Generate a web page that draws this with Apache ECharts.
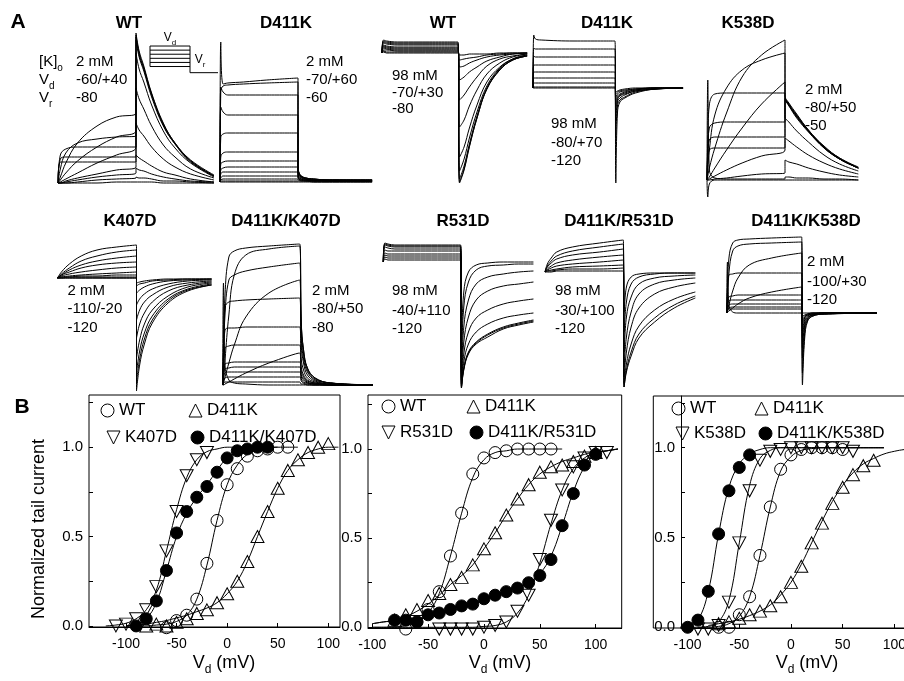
<!DOCTYPE html>
<html><head><meta charset="utf-8">
<script src="https://cdn.jsdelivr.net/npm/echarts@6.0.0/dist/echarts.min.js"></script>
<style>html,body{margin:0;padding:0;background:#fff}#c{width:904px;height:681px}</style>
</head><body><div id="c"></div><script>
const FONT = '"Liberation Sans", Arial, Helvetica, sans-serif';

// ================= Panel A: current traces (values in a.u., baseline = 0) =================
const wt2Time = [0,3,10,25,50,75,100,100,104,110,120,135,150,170,200];
const wt2Traces = [
 [0,21,21,21,21,21,21,150,132,117,90,60,40,23,8],
 [0,24,26,26,26,26,26,148,130,115,89,59,40,22,7],
 [0,28,34,36,36,36,36,146,128,114,88,58,39,22,7],
 [0,14,30,40,44,46,47,143,126,112,86,57,39,21,7],
 [0,6,20,40,57,66,70,130,114,101,78,52,35,20,6],
 [0,3,10,22,36,46,53,95,84,74,57,38,26,14,5],
 [0,1,4,10,20,28,36,60,53,47,36,24,16,9,3],
 [0,0,2,5,9,13,16,28,25,22,17,11,8,4,1],
 [0,0,1,3,6,8,10,15,13,12,9,6,4,2,1],
 [0,0,0,1,3,4,5,6,5,5,4,2,2,1,0],
 [0,0,0,0,0,1,1,1,1,1,1,0,0,0,0]
];
const d4k2Time = [0,1,4,10,30,60,100,100,101,104,110,120,140,195];
const d4k2Traces = [
 [0,140,98,99,100,102,104,14,10,6,4,3,2,2],
 [0,90,96,97,98,99,100,14,10,6,4,3,2,2],
 [0,95,90,87,87,87,87,13,9,6,4,3,2,2],
 [0,75,70,67,67,67,67,12,8,5,3,2,2,2],
 [0,45,48,49,49,49,49,11,7,5,3,2,2,1],
 [0,25,29,30,30,30,30,9,6,4,3,2,1,1],
 [0,18,20,21,21,21,21,8,5,3,2,2,1,1],
 [0,12,14,15,15,15,15,6,4,3,2,1,1,1],
 [0,8,10,10,10,10,10,5,3,2,2,1,1,1],
 [0,4,6,6,6,6,6,4,3,2,1,1,1,1],
 [0,2,3,3,3,3,3,2,2,1,1,1,1,1],
 [0,1,1,1,1,1,1,1,1,1,1,0,0,0],
 [0,0,0,0,0,0,0,0,0,0,0,0,0,0]
];
const wt98Time = [0,2,6,20,50,100,102,108,115,125,138,155,172,191];
const wt98Traces = [
 [0,13,12,11,11,11,-130,-117,-94,-65,-36,-17,-7,-3],
 [0,12,11,10,10,10,-129,-116,-93,-65,-36,-17,-7,-3],
 [0,11,10,9,9,9,-126,-113,-91,-63,-35,-16,-7,-3],
 [0,10,9,8,8,8,-118,-106,-85,-59,-33,-15,-6,-2],
 [0,8,7,6,6,6,-104,-94,-75,-52,-29,-14,-6,-2],
 [0,7,6,5,5,5,-74,-67,-53,-37,-21,-10,-4,-1],
 [0,6,5,4,4,4,-47,-42,-34,-24,-13,-6,-3,-1],
 [0,5,4,3,3,3,-27,-24,-19,-14,-8,-4,-1,0],
 [0,3,3,2,2,2,-14,-13,-10,-7,-4,-2,-1,0],
 [0,2,1,1,1,1,-7,-6,-5,-4,-2,-1,0,0],
 [0,1,0,0,0,0,-2,-2,-1,-1,-1,0,0,0]
];
const d4k98Time = [0,1,3,10,50,100,101,103,106,112,125,150,183];
const d4k98Traces = [
 [0,53,49,48,47,47,-95,-25,-14,-10,-5,-1,0],
 [0,40,39,39,39,39,-50,-18,-12,-9,-4,-1,0],
 [0,32,31,31,31,31,-32,-14,-10,-7,-3,-1,0],
 [0,23,23,23,23,23,-22,-12,-8,-6,-3,-1,0],
 [0,16,16,16,16,16,-16,-10,-7,-5,-2,0,0],
 [0,10,10,10,10,10,-12,-8,-6,-4,-2,0,0],
 [0,5,5,5,5,5,-9,-6,-4,-3,-1,0,0],
 [0,1,1,1,1,1,-6,-4,-3,-2,-1,0,0],
 [0,0,0,0,0,0,-4,-3,-2,-1,0,0,0]
];
const k538Time = [0,1,3,10,25,45,70,100,100,105,115,130,150,170,194];
const k538Traces = [
 [0,4,12,32,67,103,125,140,83,76,65,50,33,22,12],
 [0,10,30,65,92,110,120,127,82,75,64,49,33,21,12],
 [0,1,3,12,30,52,76,98,63,58,49,38,25,16,9],
 [0,40,75,86,87,87,87,87,84,77,66,50,34,22,13],
 [0,30,52,57,58,58,58,58,82,75,64,49,33,21,12],
 [0,25,40,43,43,43,43,43,81,75,63,49,32,21,12],
 [0,20,30,32,32,32,32,32,80,74,62,48,32,21,12],
 [0,0,1,4,10,17,24,30,42,39,33,25,17,11,6],
 [0,0,0,1,2,4,6,7,20,18,16,12,8,5,3],
 [0,100,10,2,1,1,1,1,3,3,2,2,1,1,0],
 [0,-17,-4,0,0,0,0,0,0,0,0,0,0,0,0]
];
const k407Time = [0,5,15,30,50,75,100,100,104,110,120,140,165,195];
const k407Traces = [
 [0,6,14,22,28,31,33,-113,-87,-66,-45,-25,-13,-7],
 [0,4,10,17,22,26,28,-105,-81,-61,-42,-23,-12,-7],
 [0,3,8,13,17,20,22,-95,-73,-55,-38,-21,-11,-6],
 [0,3,6,10,13,15,16,-80,-62,-46,-32,-18,-9,-5],
 [0,2,4,6,8,10,11,-60,-46,-35,-24,-13,-7,-4],
 [0,1,2,3,4,5,6,-42,-32,-24,-17,-9,-5,-3],
 [0,1,1,2,2,3,3,-27,-21,-16,-11,-6,-3,-2],
 [0,0,1,1,1,1,1,-15,-12,-9,-6,-3,-2,-1],
 [0,0,0,0,0,0,0,-8,-6,-5,-3,-2,-1,-1],
 [0,0,0,0,0,0,0,-5,-4,-3,-2,-1,-1,-1]
];
const dk407Time = [0,1,3,8,15,30,60,100,102,105,110,120,140,195];
const dk407Traces = [
 [0,30,90,128,134,137,139,141,63,35,17,7,2,0],
 [0,5,25,70,110,130,136,139,63,35,17,7,2,0],
 [0,20,70,105,110,114,118,122,55,31,15,6,2,0],
 [0,2,8,22,40,68,92,105,47,26,13,5,2,0],
 [0,40,78,83,84,85,86,87,39,22,10,4,1,0],
 [0,30,55,57,57,58,58,58,26,15,7,3,1,0],
 [0,20,37,39,40,40,40,40,18,10,5,2,1,0],
 [0,0,1,3,6,12,22,32,14,8,4,2,0,0],
 [0,12,21,22,23,23,23,23,10,6,3,1,0,0],
 [0,9,16,17,18,18,18,18,8,5,2,1,0,0],
 [0,7,12,13,13,13,13,13,6,3,2,1,0,0],
 [0,4,7,8,8,8,8,8,4,2,1,0,0,0],
 [0,2,3,3,3,3,3,3,1,1,0,0,0,0],
 [0,102,20,5,2,1,0,0,0,0,0,0,0,0]
];
const r531Time = [0,2,6,15,40,70,100,101,104,110,120,135,155,175,194];
const r531Traces = [
 [0,19,18,17,17,17,17,-126,-108,-92,-82,-75,-67,-63,-60],
 [0,18,17,16,16,16,16,-126,-107,-91,-81,-73,-66,-62,-59],
 [0,17,16,15,15,15,15,-125,-106,-90,-80,-72,-65,-61,-58],
 [0,15,14,13,13,13,13,-124,-100,-82,-70,-62,-56,-53,-51],
 [0,12,11,11,11,11,11,-122,-92,-70,-56,-48,-42,-39,-37],
 [0,9,8,8,8,8,8,-118,-80,-55,-38,-29,-24,-22,-20],
 [0,7,6,6,6,6,6,-110,-65,-38,-22,-15,-12,-10,-9],
 [0,5,4,4,4,4,4,-95,-45,-20,-8,-4,-3,-2,-2],
 [0,3,2,2,2,2,2,-80,-30,-10,-3,-1,0,0,0]
];
const dr531Time = [0,3,8,15,35,70,100,101,104,110,120,140,165,192];
const dr531Traces = [
 [0,8,14,20,25,29,32,-115,-100,-84,-66,-50,-36,-26],
 [0,6,11,16,21,25,28,-115,-98,-80,-62,-46,-33,-24],
 [0,5,9,13,17,20,23,-112,-92,-72,-54,-38,-27,-20],
 [0,3,6,9,12,15,17,-105,-80,-55,-36,-22,-15,-11],
 [0,2,4,6,8,10,12,-95,-65,-40,-22,-12,-8,-6],
 [0,1,2,3,5,6,7,-80,-45,-25,-12,-6,-4,-3],
 [0,1,1,2,3,3,4,-60,-30,-12,-5,-2,-1,-1],
 [0,0,0,1,1,1,1,-40,-15,-5,-2,-1,-1,-1]
];
const dk538Time = [0,1,3,8,15,30,60,100,101,104,108,115,130,200];
const dk538Traces = [
 [0,20,55,70,73,74,75,76,-72,-25,-8,-3,-1,0],
 [0,10,40,62,67,69,70,71,-60,-20,-7,-3,-1,0],
 [0,2,8,22,35,48,55,60,-45,-15,-6,-2,-1,0],
 [0,25,38,39,40,40,40,40,-35,-12,-5,-2,-1,0],
 [0,1,2,5,9,15,21,26,-25,-9,-4,-2,0,0],
 [0,10,16,17,18,18,18,18,-18,-7,-3,-1,0,0],
 [0,7,12,13,13,13,13,13,-12,-5,-2,-1,0,0],
 [0,5,8,9,9,9,9,9,-8,-4,-2,-1,0,0],
 [0,3,5,6,6,6,6,6,-5,-3,-1,0,0,0],
 [0,2,4,4,4,4,4,4,-3,-2,-1,0,0,0],
 [0,51,8,1,0,0,0,0,0,0,0,0,0,0]
];
// voltage protocol inset (schematic, mV)
const protoTime = [0, 100, 170];
const protoLevels = [40, 20, 0, -20, -40, -60];
const protoVr = -90;

// panel titles and recording conditions
const panelTitles = ['WT','D411K','WT','D411K','K538D','K407D','D411K/K407D','R531D','D411K/R531D','D411K/K538D'];
const panelConds = [
 ['2 mM','-60/+40','-80'], ['2 mM','-70/+60','-60'], ['98 mM','-70/+30','-80'],
 ['98 mM','-80/+70','-120'], ['2 mM','-80/+50','-50'], ['2 mM','-110/-20','-120'],
 ['2 mM','-80/+50','-80'], ['98 mM','-40/+110','-120'], ['98 mM','-30/+100','-120'],
 ['2 mM','-100/+30','-120']
];

// ================= Panel B: normalized tail current vs Vd =================
const b1wtX = [-60,-50,-40,-30,-20,-10,0,10,20,30,40,50,60];
const b1wtY = [-0.01,0.03,0.06,0.15,0.35,0.59,0.79,0.88,0.95,0.98,0.99,1.0,1.0];
const b1dkX = [-80,-70,-60,-50,-40,-30,-20,-10,0,10,20,30,40,50,60,70,80,90,100];
const b1dkY = [0,0.01,0,0.02,0.04,0.07,0.09,0.13,0.18,0.25,0.36,0.5,0.64,0.77,0.87,0.93,0.97,1.0,1.02];
const b1mX = [-110,-100,-90,-80,-70,-60,-50,-40,-30,-20];
const b1mY = [0,0.01,0.04,0.09,0.22,0.42,0.64,0.84,0.93,0.97];
const b1ddX = [-90,-80,-70,-60,-50,-40,-30,-20,-10,0,10,20,30,40];
const b1ddY = [0,0.04,0.14,0.31,0.52,0.64,0.72,0.78,0.86,0.94,0.98,0.99,1.0,1.0];
const f1wtX = [-100,-90,-80,-70,-60,-50,-40,-30,-20,-10,0,10,20,30,40,50,60,70];
const f1wtY = [0,0,0,0.005,0.01,0.025,0.06,0.15,0.34,0.59,0.79,0.9,0.96,0.985,0.995,1,1,1];
const f1dkX = [-100,-90,-80,-70,-60,-50,-40,-30,-20,-10,0,10,20,30,40,50,60,70,80,90,100,110];
const f1dkY = [0,0.005,0.01,0.02,0.03,0.045,0.06,0.08,0.1,0.13,0.18,0.25,0.36,0.5,0.64,0.77,0.87,0.93,0.97,0.99,1,1];
const f1mX = [-120,-110,-100,-90,-80,-70,-60,-50,-40,-30,-20,-10,0,10,20,30,40,50];
const f1mY = [0,0.005,0.015,0.04,0.09,0.2,0.42,0.65,0.83,0.93,0.975,0.99,1,1,1,1,1,1];
const f1ddX = [-100,-90,-80,-70,-60,-50,-40,-30,-20,-10,0,10,20,30,40];
const f1ddY = [0,0.01,0.04,0.13,0.31,0.5,0.63,0.72,0.79,0.87,0.94,0.97,0.99,1,1];
const b2wtX = [-70,-60,-50,-40,-30,-20,-10,0,10,20,30,40,50,60];
const b2wtY = [-0.01,0.03,0.1,0.2,0.4,0.64,0.86,0.95,0.98,0.99,1.0,1.0,1.0,1.0];
const b2dkX = [-80,-70,-60,-50,-40,-30,-20,-10,0,10,20,30,40,50,60,70,80,90,100];
const b2dkY = [0.04,0.07,0.1,0.15,0.19,0.24,0.28,0.35,0.44,0.53,0.63,0.72,0.8,0.87,0.9,0.91,0.93,0.96,0.98];
const b2mX = [-40,-30,-20,-10,0,10,20,30,40,50,60,70,80,90,100,110];
const b2mY = [-0.01,-0.01,-0.01,-0.01,0,0.01,0.03,0.09,0.18,0.38,0.6,0.77,0.9,0.95,0.98,0.98];
const b2ddX = [-80,-70,-60,-50,-40,-30,-20,-10,0,10,20,30,40,50,60,70,80,90,100];
const b2ddY = [0.04,0.04,0.03,0.07,0.08,0.1,0.12,0.13,0.16,0.18,0.2,0.22,0.25,0.29,0.38,0.57,0.75,0.91,0.97];
const f2wtX = [-100,-90,-80,-70,-60,-50,-40,-30,-20,-10,0,10,20,30,40,50,60,70];
const f2wtY = [0,0,0,0.01,0.03,0.08,0.19,0.4,0.64,0.84,0.94,0.98,0.99,1,1,1,1,1];
const f2X = [-100,-90,-80,-70,-60,-50,-40,-30,-20,-10,0,10,20,30,40,50,60,70,80,90,100,110,120];
const f2dkY = [0.02,0.03,0.04,0.06,0.09,0.13,0.18,0.24,0.29,0.35,0.44,0.53,0.63,0.72,0.8,0.86,0.9,0.93,0.95,0.97,0.985,0.99,1];
const f2mY = [0,0,0,0,0,0,0,0,0,0,0.005,0.01,0.03,0.08,0.18,0.36,0.58,0.77,0.89,0.95,0.98,0.99,1];
const f2ddY = [0.02,0.03,0.035,0.04,0.05,0.06,0.075,0.09,0.11,0.13,0.155,0.175,0.2,0.225,0.25,0.3,0.4,0.57,0.76,0.9,0.97,0.99,1];
const b3wtX = [-70,-60,-50,-40,-30,-20,-10,0,10,20,30,40,50];
const b3wtY = [0,0,0.07,0.17,0.4,0.67,0.88,0.96,0.99,1.0,1.0,1.0,0.99];
const b3dkX = [-70,-60,-50,-40,-30,-20,-10,0,10,20,30,40,50,60,70,80];
const b3dkY = [0.02,0.03,0.05,0.07,0.09,0.12,0.17,0.25,0.34,0.47,0.58,0.69,0.78,0.85,0.9,0.93];
const b3mX = [-90,-80,-70,-60,-50,-40,-30,-20,-10,0,10,20,30,40,50,60];
const b3mY = [-0.01,-0.01,0.01,0.14,0.47,0.76,0.93,0.98,0.99,1,1,1,1,1,1,0.98];
const b3ddX = [-100,-90,-80,-70,-60,-50,-40];
const b3ddY = [0,0.04,0.2,0.52,0.76,0.89,0.96];
const f3wtX = [-90,-80,-70,-60,-50,-40,-30,-20,-10,0,10,20,30,40,50,60,70,80,90];
const f3wtY = [0,0,0.005,0.02,0.06,0.17,0.4,0.67,0.87,0.95,0.985,0.995,1,1,1,1,1,1,1];
const f3dkX = [-80,-70,-60,-50,-40,-30,-20,-10,0,10,20,30,40,50,60,70,80,90,100,110,120];
const f3dkY = [0.01,0.02,0.03,0.045,0.065,0.09,0.125,0.18,0.25,0.35,0.47,0.59,0.7,0.79,0.86,0.91,0.94,0.965,0.98,0.99,0.995];
const f3mX = [-100,-90,-80,-70,-60,-50,-40,-30,-20,-10,0,10,20,30,40,50,60,70,80,90];
const f3mY = [0,0,0.005,0.03,0.15,0.47,0.79,0.94,0.985,1,1,1,1,1,1,1,1,1,1,1];
const f3ddX = [-110,-100,-90,-80,-70,-60,-50,-40,-30,-20,-10,0,10,20,30,40,50,60,70,80,90];
const f3ddY = [0,0.005,0.04,0.2,0.52,0.78,0.91,0.965,0.99,1,1,1,1,1,1,1,1,1,1,1,1];

const xLabelVals = [-100,-50,0,50,100];
const yTickVals = [0,0.25,0.5,0.75,1,1.25];
const yLabelVals = [0,0.5,1];

// ================= layout (positions only) =================
const traceLayout = [
 {time: wt2Time, traces: wt2Traces, left: 58, px: 0.78, base: 183, ymax: 155, ymin: -8},
 {time: d4k2Time, traces: d4k2Traces, left: 220, px: 0.78, base: 182, ymax: 145, ymin: -5},
 {time: wt98Time, traces: wt98Traces, left: 382, px: 0.76, base: 53, ymax: 20, ymin: -135},
 {time: d4k98Time, traces: d4k98Traces, left: 533, px: 0.82, base: 88, ymax: 60, ymin: -100},
 {time: k538Time, traces: k538Traces, left: 707, px: 0.78, base: 180, ymax: 150, ymin: -25},
 {time: k407Time, traces: k407Traces, left: 57.5, px: 0.79, base: 278, ymax: 40, ymin: -120},
 {time: dk407Time, traces: dk407Traces, left: 222.7, px: 0.77, base: 385, ymax: 150, ymin: -12},
 {time: r531Time, traces: r531Traces, left: 383.3, px: 0.774, base: 262, ymax: 25, ymin: -135},
 {time: dr531Time, traces: dr531Traces, left: 545, px: 0.783, base: 272, ymax: 40, ymin: -125},
 {time: dk538Time, traces: dk538Traces, left: 726.7, px: 0.75, base: 313, ymax: 85, ymin: -80}
];
const titlePos = [[129,23],[286,23],[443,23],[607,23],[748,23],[130,221],[286,221],[463,221],[619,221],[806,221]];
const condPos = [[76,62,80,98],[306,62,80,98],[392,76,92.5,109],[551,124,142.5,161],[805,90,108,126],
 [67.5,290.5,309,327.5],[312,290.5,309,327.5],[392,291,310.5,329],[555,291,310.5,329],[807,262,282,300]];
const plotLayout = [
 {left: 89, top: 395, width: 251, height: 232, xmin: -136.6, xmax: 111.6, ymin: -0.006, ymax: 1.292, yLine: false},
 {left: 368, top: 395, width: 253.7, height: 233, xmin: -103.8, xmax: 123.3, ymin: -0.004, ymax: 1.303, yLine: false},
 {left: 681, top: 396, width: 228.6, height: 232, xmin: -106.4, xmax: 114.8, ymin: -0.004, ymax: 1.288, yLine: true}
];
const frameLayout = [
 {left: 89, top: 395, width: 251, height: 232},
 {left: 368, top: 395, width: 253.7, height: 233},
 {left: 653.3, top: 396, width: 256.3, height: 232}
];
const legendPos = [
 [[107,411],[195,411],[113,438],[197,438]],
 [[388,407],[473,407],[388,433],[476,433]],
 [[678,409],[761,409],[682,434],[765,434]]
];
const xNamePos = [[224,663],[500,663],[807,663]];
const yLabelGap = 6;

// ================= build option =================
const grids = [], xAxes = [], yAxes = [], series = [], graphics = [], legends = [], plotGrid = [];
function addGrid(g, xa, ya) {
  grids.push(Object.assign({outerBoundsMode: 'none'}, g));
  const i = grids.length - 1;
  xAxes.push(Object.assign({gridIndex: i}, xa));
  yAxes.push(Object.assign({gridIndex: i}, ya));
  return i;
}
const hidden = (min, max) => ({type: 'value', min, max, show: false, splitLine: {show: false}});
function lineSeries(gi, data, smooth) {
  return {type: 'line', xAxisIndex: gi, yAxisIndex: gi, data, symbol: 'none', showSymbol: false,
    smooth: smooth, lineStyle: {color: '#000', width: 1}, silent: true, animation: false, z: 2};
}

traceLayout.forEach(p => {
  const tmax = p.time[p.time.length - 1];
  const gi = addGrid({left: p.left, top: p.base - p.ymax, width: tmax * p.px, height: p.ymax - p.ymin},
    hidden(0, tmax), hidden(p.ymin, p.ymax));
  p.traces.forEach(tr => series.push(lineSeries(gi, p.time.map((t, k) => [t, tr[k]]), 0.4)));
});

{
  const gi = addGrid({left: 150, top: 45, width: 68, height: 28.7}, hidden(0, 170), hidden(-95, 45));
  protoLevels.forEach(L => series.push(lineSeries(gi, [[protoTime[0], L], [protoTime[1], L]], false)));
  series.push(lineSeries(gi, [[protoTime[0], protoLevels[0]], [protoTime[0], protoLevels[protoLevels.length - 1]]], false));
  series.push(lineSeries(gi, [[protoTime[1], protoLevels[0]], [protoTime[1], protoVr], [protoTime[2], protoVr]], false));
}

frameLayout.forEach(f => addGrid(Object.assign({show: true, borderColor: '#000', borderWidth: 1,
  backgroundColor: 'rgba(0,0,0,0)'}, f), hidden(0, 1), hidden(0, 1)));

const DOWN = 'path://M0,0L10,0L5,10Z';
const markerStyles = {
  open: {symbol: 'circle', size: 12, fill: 'rgba(0,0,0,0)'},
  up: {symbol: 'triangle', size: [13, 12], fill: 'rgba(0,0,0,0)'},
  down: {symbol: DOWN, size: [13, 12], fill: 'rgba(0,0,0,0)'},
  filled: {symbol: 'circle', size: 12, fill: '#000'}
};
const plotSets = [
 {names: ['WT','D411K','K407D','D411K/K407D'],
  pts: [[b1wtX,b1wtY],[b1dkX,b1dkY],[b1mX,b1mY],[b1ddX,b1ddY]],
  fits: [[f1wtX,f1wtY],[f1dkX,f1dkY],[f1mX,f1mY],[f1ddX,f1ddY]]},
 {names: ['WT','D411K','R531D','D411K/R531D'],
  pts: [[b2wtX,b2wtY],[b2dkX,b2dkY],[b2mX,b2mY],[b2ddX,b2ddY]],
  fits: [[f2wtX,f2wtY],[f2X,f2dkY],[f2X,f2mY],[f2X,f2ddY]]},
 {names: ['WT','D411K','K538D','D411K/K538D'],
  pts: [[b3wtX,b3wtY],[b3dkX,b3dkY],[b3mX,b3mY],[b3ddX,b3ddY]],
  fits: [[f3wtX,f3wtY],[f3dkX,f3dkY],[f3mX,f3mY],[f3ddX,f3ddY]]}
];
const kinds = ['open','up','down','filled'];

plotLayout.forEach((pl, pi) => {
  const gi = addGrid({left: pl.left, top: pl.top, width: pl.width, height: pl.height, show: false},
    {type: 'value', position: 'bottom', min: pl.xmin, max: pl.xmax, splitLine: {show: false},
     axisLine: {show: true, onZero: false, lineStyle: {color: '#000', width: 1}},
     axisTick: {show: true, inside: true, length: 4, customValues: xLabelVals, lineStyle: {color: '#000'}},
     axisLabel: {customValues: xLabelVals, color: '#000', fontSize: 14, fontFamily: FONT, margin: 10}},
    {type: 'value', position: 'left', min: pl.ymin, max: pl.ymax, splitLine: {show: false},
     axisLine: {show: pl.yLine, onZero: false, lineStyle: {color: '#000', width: 1}},
     axisTick: {show: true, inside: true, length: 4, customValues: yTickVals, lineStyle: {color: '#000'}},
     axisLabel: {show: false}});
  plotGrid.push(gi);
  const set = plotSets[pi];
  set.fits.forEach((f, k) => {
    const s = lineSeries(gi, f[0].map((x, j) => [x, f[1][j]]), 0.4);
    s.name = 'fit ' + (pi + 1) + '-' + k;
    series.push(s);
  });
  set.pts.forEach((p, k) => {
    const st = markerStyles[kinds[k]];
    series.push({type: 'scatter', name: set.names[k], xAxisIndex: gi, yAxisIndex: gi, clip: false,
      data: p[0].map((x, j) => [x, p[1][j]]), symbol: st.symbol, symbolSize: st.size,
      itemStyle: {color: st.fill, borderColor: '#000', borderWidth: 1, opacity: 1},
      silent: true, animation: false, z: 3});
  });
  set.names.forEach((nm, k) => {
    const st = markerStyles[kinds[k]];
    const [cx, cy] = legendPos[pi][k];
    legends.push({show: true, left: cx - 6.5, top: cy - 9, padding: 0, itemWidth: 13, itemHeight: 13,
      selectedMode: false, orient: 'horizontal',
      data: [{name: nm, icon: st.symbol, itemStyle: {color: st.fill, borderColor: '#000', borderWidth: 1}}],
      textStyle: {fontSize: 17, fontFamily: FONT, color: '#000'}});
  });
});

function txt(x, y, text, size, extra, rot) {
  const style = Object.assign({text, fill: '#000', fontSize: size, fontFamily: FONT,
    align: 'left', verticalAlign: 'middle', textAlign: 'left', textVerticalAlign: 'middle'}, extra || {});
  const el = {type: 'text', x, y, silent: true, z: 10, style};
  if (rot) el.rotation = rot;
  return el;
}
function subTxt(x, y, text, size, align) {
  return txt(x, y, text, size, {align: align || 'left', textAlign: align || 'left', lineHeight: Math.round(size * 1.45),
    rich: {s: {fontSize: Math.round(size * 0.66), lineHeight: Math.round(size * 0.66), verticalAlign: 'bottom',
               fontFamily: FONT, fill: '#000'}}});
}
graphics.push(txt(18, 22, 'A', 21, {fontWeight: 'bold', align: 'center', textAlign: 'center'}));
graphics.push(txt(22, 407, 'B', 21, {fontWeight: 'bold', align: 'center', textAlign: 'center'}));
panelTitles.forEach((t, i) => graphics.push(txt(titlePos[i][0], titlePos[i][1], t, 17,
  {fontWeight: 'bold', align: 'center', textAlign: 'center'})));
panelConds.forEach((c, i) => {
  const p = condPos[i];
  c.forEach((s, k) => graphics.push(txt(p[0], p[k + 1], s, 15)));
});
graphics.push(subTxt(39, 62, '[K]{s|o}', 15));
graphics.push(subTxt(39, 80, 'V{s|d}', 15));
graphics.push(subTxt(39, 98, 'V{s|r}', 15));
graphics.push(subTxt(170, 38, 'V{s|d}', 12, 'center'));
graphics.push(subTxt(200, 60, 'V{s|r}', 12, 'center'));
xNamePos.forEach(p => graphics.push(subTxt(p[0], p[1], 'V{s|d} (mV)', 18, 'center')));
graphics.push(txt(39, 529, 'Normalized tail current', 18, {align: 'center', textAlign: 'center'}, Math.PI / 2));

const chart = echarts.init(document.getElementById('c'), null, {renderer: 'canvas'});
chart.setOption({
  animation: false,
  backgroundColor: '#fff',
  textStyle: {fontFamily: FONT},
  grid: grids, xAxis: xAxes, yAxis: yAxes,
  legend: legends,
  series: series,
  graphic: {elements: graphics}
});
// y tick labels: vertical position through each plot's own y scale, placed left of its axis
const yLabels = [];
plotGrid.forEach((gi, pi) => {
  yLabelVals.forEach(v => {
    const p = chart.convertToPixel({gridIndex: gi}, [0, v]);
    yLabels.push(txt(plotLayout[pi].left - yLabelGap, p[1], v.toFixed(1), 15, {align: 'right', textAlign: 'right'}));
  });
});
chart.setOption({graphic: {elements: graphics.concat(yLabels)}});
</script></body></html>
